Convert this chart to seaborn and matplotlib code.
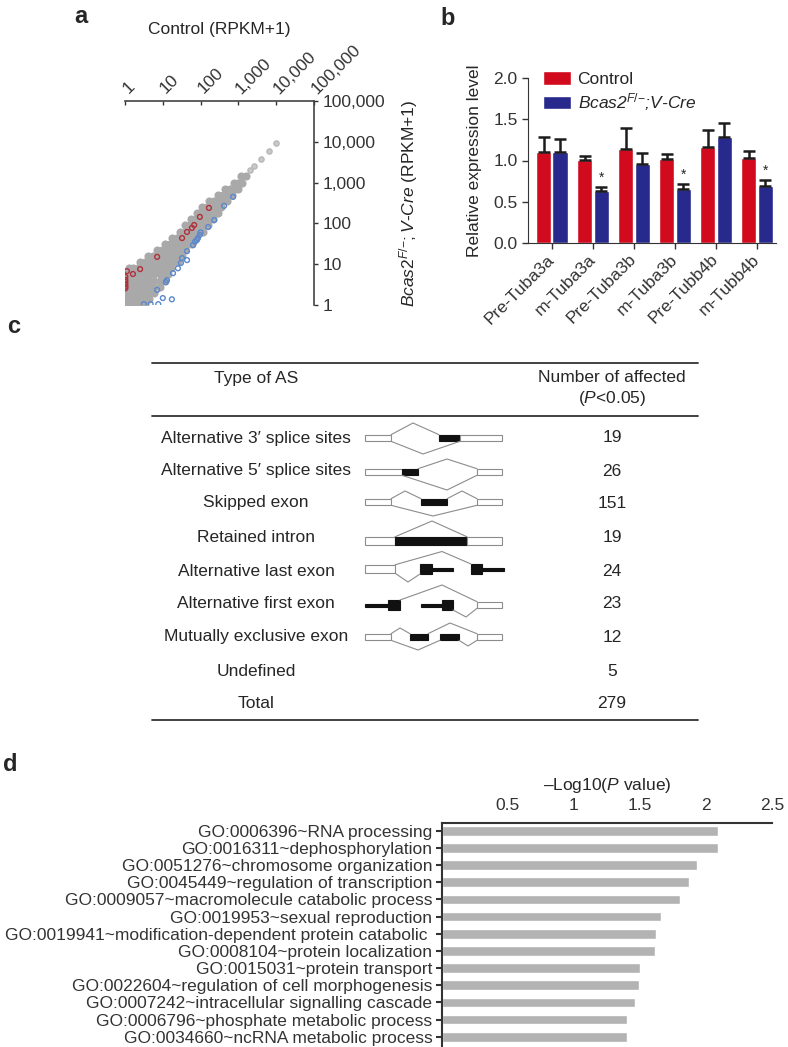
import numpy as np
import pandas as pd
import matplotlib
matplotlib.use("Agg")
import matplotlib.pyplot as plt
import seaborn as sns
from matplotlib.patches import Rectangle
from matplotlib.ticker import NullLocator

sns.set_style("ticks")
plt.rcParams["font.family"] = ["Liberation Sans", "DejaVu Sans"]
plt.rcParams["mathtext.fontset"] = "custom"
plt.rcParams["mathtext.rm"] = "Liberation Sans"
plt.rcParams["mathtext.it"] = "Liberation Sans:italic"
plt.rcParams["axes.edgecolor"] = "#333333"
plt.rcParams["xtick.color"] = "#333333"
plt.rcParams["ytick.color"] = "#333333"

# ---- panel a: expression scatter (log10 of RPKM+1) ----
cloud_row_ly = [0.03, 0.15, 0.3, 0.45, 0.6, 0.75, 0.9, 1.05, 1.2, 1.35, 1.5,
                1.65, 1.8, 1.95, 2.1, 2.25, 2.4, 2.55, 2.7, 2.85, 3.0, 3.15]
cloud_row_lx = [
    [0.03, 0.15, 0.28, 0.4, 0.52],
    [0.03, 0.15, 0.28, 0.4, 0.52, 0.64],
    [0.03, 0.15, 0.28, 0.4, 0.52, 0.64, 0.78],
    [0.03, 0.15, 0.28, 0.4, 0.52, 0.64, 0.78, 0.92],
    [0.03, 0.15, 0.28, 0.4, 0.52, 0.64, 0.78, 0.92, 1.05],
    [0.03, 0.15, 0.28, 0.4, 0.52, 0.64, 0.78, 0.92, 1.05, 1.15],
    [0.1, 0.22, 0.35, 0.48, 0.6, 0.72, 0.85, 0.98, 1.1, 1.22],
    [0.4, 0.52, 0.65, 0.78, 0.9, 1.02, 1.15, 1.28, 1.4],
    [0.62, 0.75, 0.88, 1.0, 1.12, 1.25, 1.38, 1.5],
    [0.85, 0.97, 1.1, 1.22, 1.35, 1.48, 1.6],
    [1.05, 1.18, 1.3, 1.42, 1.55, 1.68, 1.78],
    [1.25, 1.38, 1.5, 1.62, 1.75, 1.88],
    [1.45, 1.58, 1.7, 1.82, 1.95, 2.07],
    [1.6, 1.72, 1.85, 1.98, 2.1, 2.2],
    [1.75, 1.88, 2.0, 2.12, 2.25, 2.33],
    [1.9, 2.02, 2.15, 2.28, 2.4, 2.47],
    [2.05, 2.18, 2.3, 2.42, 2.55],
    [2.22, 2.35, 2.48, 2.6, 2.7],
    [2.45, 2.58, 2.7, 2.82],
    [2.65, 2.78, 2.9, 2.98],
    [2.88, 3.0, 3.1],
    [3.08, 3.2],
]
top_lx = [3.3, 3.41, 3.6, 3.81, 4.0]
top_ly = [3.3, 3.41, 3.58, 3.77, 3.97]

up_lx = [2.22, 1.98, 1.83, 1.77, 1.64, 1.51, 0.85, 0.40, 0.21, 0.05,
         0.01, 0.01, 0.01, 0.01, 0.01, 0.01]
up_ly = [2.38, 2.16, 1.96, 1.89, 1.79, 1.64, 1.18, 0.88, 0.76, 0.83,
         0.69, 0.62, 0.56, 0.50, 0.45, 0.41]

down_lx = [2.86, 2.62, 2.36, 2.2, 2.0, 1.98, 1.93, 1.9, 1.85, 1.8, 1.64,
           1.64, 1.51, 1.48, 1.4, 1.27, 1.11, 1.08, 0.85, 1.0, 1.24, 0.5,
           0.68, 0.88]
down_ly = [2.65, 2.43, 2.08, 1.91, 1.78, 1.72, 1.64, 1.59, 1.55, 1.47, 1.32,
           1.1, 1.15, 1.03, 0.9, 0.78, 0.61, 0.56, 0.37, 0.17, 0.14, 0.02,
           0.02, 0.02]

axis_a_ticks = [1, 10, 100, 1000, 10000, 100000]
axis_a_labels = ["1", "10", "100", "1,000", "10,000", "100,000"]

# ---- panel b: qPCR ----
genes = ["Pre-Tuba3a", "m-Tuba3a", "Pre-Tuba3b", "m-Tuba3b", "Pre-Tubb4b", "m-Tubb4b"]
ctrl_mean = [1.10, 1.01, 1.14, 1.02, 1.16, 1.03]
ctrl_err = [0.19, 0.05, 0.25, 0.06, 0.21, 0.09]
ko_mean = [1.10, 0.63, 0.96, 0.65, 1.29, 0.69]
ko_err = [0.16, 0.05, 0.13, 0.06, 0.17, 0.07]
ko_signif = [False, True, False, True, False, True]
ko_label = "Bcas2$^{F/{-}}$;V-Cre"

# ---- panel c: AS table ----
as_types = ["Alternative 3\u2032 splice sites", "Alternative 5\u2032 splice sites",
            "Skipped exon", "Retained intron", "Alternative last exon",
            "Alternative first exon", "Mutually exclusive exon", "Undefined", "Total"]
as_counts = [19, 26, 151, 19, 24, 23, 12, 5, 279]

# ---- panel d: GO terms ----
go_terms = ["GO:0006396~RNA processing",
            "GO:0016311~dephosphorylation",
            "GO:0051276~chromosome organization",
            "GO:0045449~regulation of transcription",
            "GO:0009057~macromolecule catabolic process",
            "GO:0019953~sexual reproduction",
            "GO:0019941~modification-dependent protein catabolic ",
            "GO:0008104~protein localization",
            "GO:0015031~protein transport",
            "GO:0022604~regulation of cell morphogenesis",
            "GO:0007242~intracellular signalling cascade",
            "GO:0006796~phosphate metabolic process",
            "GO:0034660~ncRNA metabolic process"]
go_logp = [2.09, 2.09, 1.93, 1.87, 1.80, 1.66, 1.62, 1.61, 1.50, 1.49, 1.46, 1.40, 1.40]

RED = "#d20a1e"
BLUE = "#272a8c"
GRAY = "#a9a9a9"

W, H = 788, 1047
fig = plt.figure(figsize=(W / 100, H / 100), dpi=100)


def px_axes(l, t, r, b):
    return fig.add_axes([l / W, 1 - b / H, (r - l) / W, (b - t) / H])


# ================= panel a =================
axa = px_axes(125, 101, 314, 305)
cl_x, cl_y = [], []
for ly, lxs in zip(cloud_row_ly, cloud_row_lx):
    cl_x += lxs
    cl_y += [ly] * len(lxs)
cloud = pd.DataFrame({"ctrl": 10 ** np.array(cl_x), "ko": 10 ** np.array(cl_y)})
sns.scatterplot(data=cloud, x="ctrl", y="ko", color=GRAY, s=34, linewidth=0, ax=axa)
sns.scatterplot(x=10 ** np.array(top_lx), y=10 ** np.array(top_ly), marker="o",
                facecolor="#c8c8c8", edgecolor="#b8b8b8", linewidth=1, s=14, ax=axa)
sns.scatterplot(x=10 ** np.array(up_lx), y=10 ** np.array(up_ly), marker="o",
                facecolor="none", edgecolor="#b0303a", linewidth=1, s=12, ax=axa)
sns.scatterplot(x=10 ** np.array(down_lx), y=10 ** np.array(down_ly), marker="o",
                facecolor="none", edgecolor="#5a88cc", linewidth=1, s=12, ax=axa)
axa.set_xscale("log")
axa.set_yscale("log")
axa.set_xlim(1, 1e5)
axa.set_ylim(1, 1e5)
sns.despine(ax=axa, top=False, right=False, left=True, bottom=True)
for s in ("top", "right"):
    axa.spines[s].set_linewidth(1.2)
    axa.spines[s].set_color("#444444")
axa.xaxis.tick_top()
axa.yaxis.tick_right()
axa.set_xticks(axis_a_ticks)
axa.set_xticklabels(axis_a_labels, rotation=45, ha="left", va="center",
                    rotation_mode="anchor", fontsize=12.5)
axa.set_yticks(axis_a_ticks)
axa.set_yticklabels(axis_a_labels, fontsize=12.5)
axa.xaxis.set_minor_locator(NullLocator())
axa.yaxis.set_minor_locator(NullLocator())
axa.tick_params(axis="x", direction="in", length=3, width=1, pad=7)
axa.tick_params(axis="y", direction="out", length=3, width=1, pad=3)
axa.xaxis.set_label_position("top")
axa.set_xlabel("Control (RPKM+1)", fontsize=12.5)
axa.xaxis.set_label_coords(0.5, 1.33)
axa.yaxis.set_label_position("right")
axa.set_ylabel(r"$\mathit{Bcas2}^{F/{-}}\mathit{;V}$-$\mathit{Cre}$ (RPKM+1)", fontsize=12.5)
axa.yaxis.set_label_coords(1.44, 0.5)

# ================= panel b =================
axb = px_axes(528, 78, 776, 243)
qpcr = pd.DataFrame({"gene": genes * 2,
                     "group": ["Control"] * len(genes) + [ko_label] * len(genes),
                     "value": ctrl_mean + ko_mean})
sns.barplot(data=qpcr, x="gene", y="value", hue="group", palette=[RED, BLUE],
            saturation=1, width=0.8, gap=0.08, errorbar=None, ax=axb)
for cont, errs in zip(axb.containers, [ctrl_err, ko_err]):
    for bar, e in zip(cont, errs):
        xc = bar.get_x() + bar.get_width() / 2
        axb.errorbar(xc, bar.get_height(), yerr=[[0], [e]], color="#1c1c1c",
                     elinewidth=1.8, capsize=4, capthick=1.8)
for bar, e, sig in zip(axb.containers[1], ko_err, ko_signif):
    if sig:
        axb.text(bar.get_x() + bar.get_width() / 2, bar.get_height() + e + 0.03, "*",
                 ha="center", va="bottom", fontsize=10)
axb.set_ylim(0, 2)
axb.set_xlim(-0.58, 5.46)
axb.set_yticks([0, 0.5, 1.0, 1.5, 2.0])
axb.set_yticklabels(["0.0", "0.5", "1.0", "1.5", "2.0"], fontsize=12.5)
axb.set_xticks(range(len(genes)))
axb.set_xticklabels(genes, rotation=45, ha="right", va="center",
                    rotation_mode="anchor", fontsize=12.5)
axb.tick_params(axis="both", length=4, width=1)
axb.tick_params(axis="x", pad=6)
axb.set_xlabel("")
axb.set_ylabel("Relative expression level", fontsize=12.5)
axb.yaxis.set_label_coords(-0.185, 0.5)
sns.despine(ax=axb)
handles, labels = axb.get_legend_handles_labels()
axb.get_legend().remove()
leg = axb.legend(handles, labels, loc="upper left", bbox_to_anchor=(0.06, 1.04),
                 frameon=False, fontsize=12.5, handlelength=1.6, handleheight=0.8,
                 handletextpad=0.4, labelspacing=0.25, borderaxespad=0, borderpad=0)
leg.get_texts()[1].set_fontstyle("italic")

# ================= panel d =================
axd = px_axes(442, 823, 772, 1047)
sns.barplot(x=go_logp, y=go_terms, color="#b3b3b3", saturation=1, width=0.56,
            orient="h", ax=axd)
axd.set_xlim(0, 2.5)
axd.set_ylim(12.6, -0.45)
axd.xaxis.tick_top()
axd.xaxis.set_label_position("top")
axd.set_xticks([0.5, 1, 1.5, 2, 2.5])
axd.set_xticklabels(["0.5", "1", "1.5", "2", "2.5"], fontsize=12.5)
axd.set_xlabel("\u2013Log10($\\mathit{P}$ value)", fontsize=12.5, labelpad=6)
axd.set_ylabel("")
axd.tick_params(axis="y", labelsize=12.5, length=4, width=1.5, pad=3)
axd.tick_params(axis="x", length=4, width=1.5, pad=3)
sns.despine(ax=axd, top=False, right=True, bottom=True, left=False)
for s in ("top", "left"):
    axd.spines[s].set_linewidth(1.5)

# ================= overlay: table c and panel letters =================
ov = px_axes(0, 0, W, H)
ov.set_xlim(0, W)
ov.set_ylim(H, 0)
ov.axis("off")

for yl in (363, 416, 720):
    ov.plot([152, 698], [yl, yl], color="#333333", lw=1.3)
ov.text(256, 378, "Type of AS", ha="center", va="center", fontsize=12.5)
ov.text(612, 378, "Number of affected", ha="center", va="center", fontsize=12.5)
ov.text(612, 399, "($\\mathit{P}$<0.05)", ha="center", va="center", fontsize=12.5)
row_y = [438, 471, 503, 537, 571, 604, 637, 671, 704]
for yy, name, n in zip(row_y, as_types, as_counts):
    ov.text(256, yy, name, ha="center", va="center", fontsize=12.5)
    ov.text(612, yy, str(n), ha="center", va="center", fontsize=12.5)

LINE = "#8c8c8c"


def box(x0, x1, yc, h, filled):
    ov.add_patch(Rectangle((x0, yc - h / 2), x1 - x0, h,
                           facecolor="#111111" if filled else "white",
                           edgecolor="#111111" if filled else LINE, lw=0.8))


def path(yc, pts):
    ov.plot([p[0] for p in pts], [yc + p[1] for p in pts], color=LINE, lw=0.8)


# alternative 3' splice sites
y = 438
box(365, 391, y, 6.7, False); box(439, 460, y, 6.7, True); box(460, 502, y, 6.7, False)
path(y, [(391, -3.3), (413, -15), (439, -3.3)])
path(y, [(391, 3.3), (423, 16), (460, 3.3)])
# alternative 5' splice sites
y = 472
box(365, 402, y, 6.7, False); box(402, 418, y, 6.7, True); box(477, 502, y, 6.7, False)
path(y, [(418, -3.3), (447, -13), (477, -3.3)])
path(y, [(402, 3.3), (447, 18), (477, 3.3)])
# skipped exon
y = 502
box(365, 391, y, 6.7, False); box(421, 447, y, 6.7, True); box(477, 502, y, 6.7, False)
path(y, [(391, -3.3), (405, -11), (421, -3.3)])
path(y, [(447, -3.3), (462, -11), (477, -3.3)])
path(y, [(391, 3.3), (433, 14), (477, 3.3)])
# retained intron
y = 541
box(365, 395, y, 8.4, False); box(395, 467, y, 8.4, True); box(467, 502, y, 8.4, False)
path(y, [(395, -4.2), (432, -20), (467, -4.2)])
# alternative last exon
y = 569
box(365, 395, y, 8.4, False)
box(420, 432, y, 10, True); box(432, 453, y, 3, True)
box(471, 482, y, 10, True); box(482, 504, y, 3, True)
path(y, [(395, -4.2), (442, -17.5), (471, -5)])
path(y, [(395, 4.2), (408, 13), (420, 5)])
# alternative first exon
y = 605
box(365, 388, y, 3, True); box(388, 400, y, 10, True)
box(421, 442, y, 3, True); box(442, 453, y, 10, True)
box(477, 502, y, 6.7, False)
path(y, [(400, -5), (442, -20), (477, -3.3)])
path(y, [(453, 5), (466, 12), (477, 3.3)])
# mutually exclusive exon
y = 637
box(365, 391, y, 6.7, False); box(410, 428, y, 6.7, True)
box(440, 459, y, 6.7, True); box(477, 502, y, 6.7, False)
path(y, [(391, -3.3), (400, -9), (410, -3.3)])
path(y, [(428, -3.3), (450, -14), (477, -3.3)])
path(y, [(391, 3.3), (418, 13), (440, 3.3)])
path(y, [(459, 3.3), (468, 9), (477, 3.3)])

for letter, lx, ly in [("a", 74, 23), ("b", 440, 25), ("c", 7, 333), ("d", 3, 771)]:
    ov.text(lx, ly, letter, fontsize=17, fontweight="bold", ha="left", va="baseline")

fig.savefig("out.png", dpi=100)
